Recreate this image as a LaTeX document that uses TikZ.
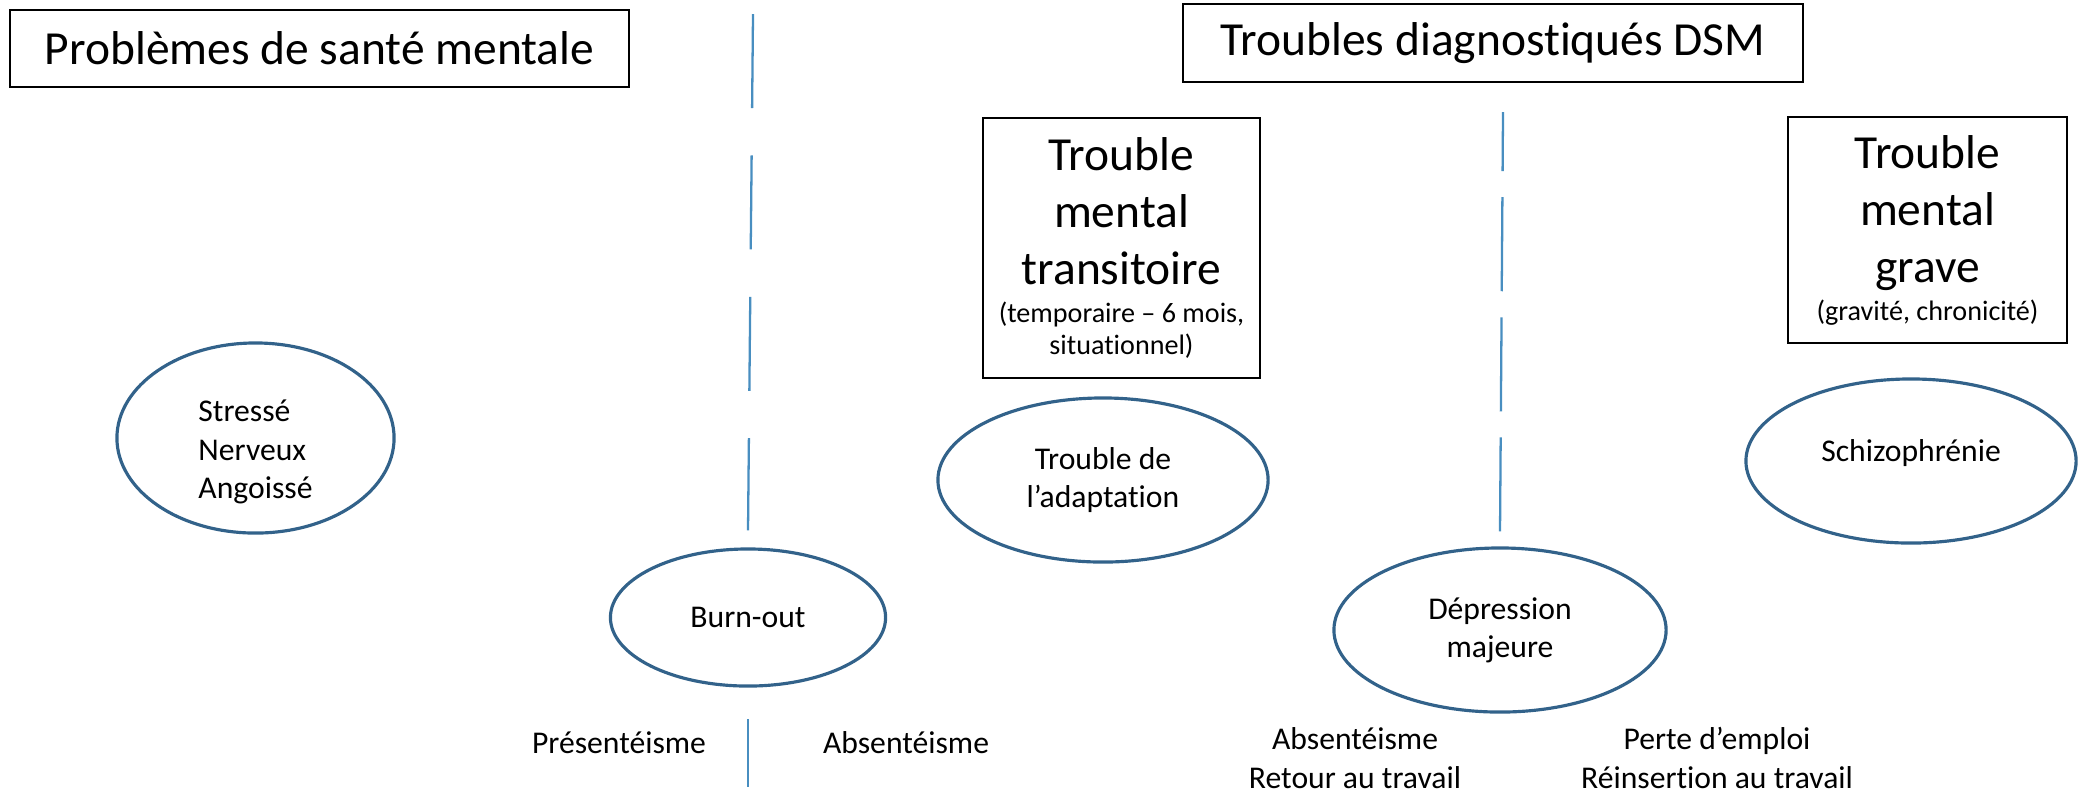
\documentclass[tikz,border=0pt]{standalone}
\usepackage{fontspec}
\setmainfont{Carlito}[Ligatures=NoCommon]
\usepackage{tikz}
\usetikzlibrary{shapes.geometric}

\definecolor{ovalblue}{RGB}{50,98,138}
\definecolor{lineblue}{RGB}{72,142,192}

\newcommand{\bigsize}{\fontsize{13.5}{16.2}\selectfont}
\newcommand{\midsize}{\fontsize{9}{10.9}\selectfont}
\newcommand{\smallsize}{\fontsize{8}{9.1}\selectfont}

\begin{document}
\begin{tikzpicture}[x=0.01cm, y=-0.01cm,
    titlebox/.style={draw=black, line width=0.6pt, inner sep=0pt, align=center, font=\bigsize},
    oval/.style={ellipse, draw=ovalblue, line width=0.9pt, inner sep=0pt, align=center, font=\midsize},
    ovaltext/.style={font=\midsize, inner sep=0pt},
    divider/.style={lineblue, line width=0.65pt},
    outcome/.style={font=\midsize, align=center, anchor=base, inner sep=0pt}]
    \useasboundingbox (0,0) rectangle (2080,802);

    % Headings
    \node[titlebox, minimum width=6.19cm, minimum height=0.77cm] (sante) at (319.5,48.5) {Problèmes de santé mentale};
    \node[titlebox, minimum width=6.20cm, minimum height=0.78cm] (dsm) at (1493,43) {Troubles diagnostiqués DSM};

    % Kinds of disorders
    \node[titlebox, minimum width=2.77cm, minimum height=2.60cm] (transit) at (1121.5,248)
        {Trouble\\mental\\transitoire\\[-5.4pt]{\smallsize (temporaire -- 6 mois,}\\[-7.1pt]{\smallsize situationnel)}};
    \node[titlebox, minimum width=2.79cm, minimum height=2.26cm] (grave) at (1927.5,230)
        {Trouble\\mental\\grave\\[-5.4pt]{\smallsize (gravité, chronicité)}};

    % Examples
    \node[oval, minimum width=2.77cm, minimum height=1.90cm] (stress) at (255.5,438) {};
    \node[ovaltext, align=left] (stresstext) at ([yshift=-0.14cm]stress.center) {Stressé\\Nerveux\\Angoissé};
    \node[oval, minimum width=2.75cm, minimum height=1.37cm] (burnout) at (748,617.5) {Burn-out};
    \node[oval, minimum width=3.30cm, minimum height=1.64cm] (adapt) at (1103,480) {Trouble de\\l'adaptation};
    \node[oval, minimum width=3.32cm, minimum height=1.64cm] (depress) at (1500,630) {Dépression\\majeure};
    \node[oval, minimum width=3.30cm, minimum height=1.64cm] (schizo) at (1911,461) {};
    \node[ovaltext] (schizotext) at ([yshift=0.08cm]schizo.center) {Schizophrénie};

    % Dividers
    \coordinate (lefttop) at (753,14);
    \coordinate (righttop) at (1503,112);
    \draw[divider, dash pattern=on 0.94cm off 0.473cm] (lefttop) -- ([yshift=0.17cm]burnout.north);
    \draw[divider] ([yshift=-0.315cm]burnout.south) -- ([yshift=-0.995cm]burnout.south);
    \draw[divider, dash pattern=on 0.94cm off 0.26cm] ([yshift=0.15cm]depress.north) -- (righttop);
    \draw[divider] ([yshift=-1.07cm]depress.south) -- ([xshift=-0.04cm, yshift=-1.72cm]depress.south);

    % Work outcomes
    \node[outcome] (present) at (619,753) {Présentéisme};
    \node[outcome] (absent) at (906,753) {Absentéisme};
    \node[outcome] (retour) at (1355,788) {Absentéisme\\Retour au travail};
    \node[outcome] (perte) at (1717,788) {Perte d’emploi\\Réinsertion au travail};
\end{tikzpicture}
\end{document}
